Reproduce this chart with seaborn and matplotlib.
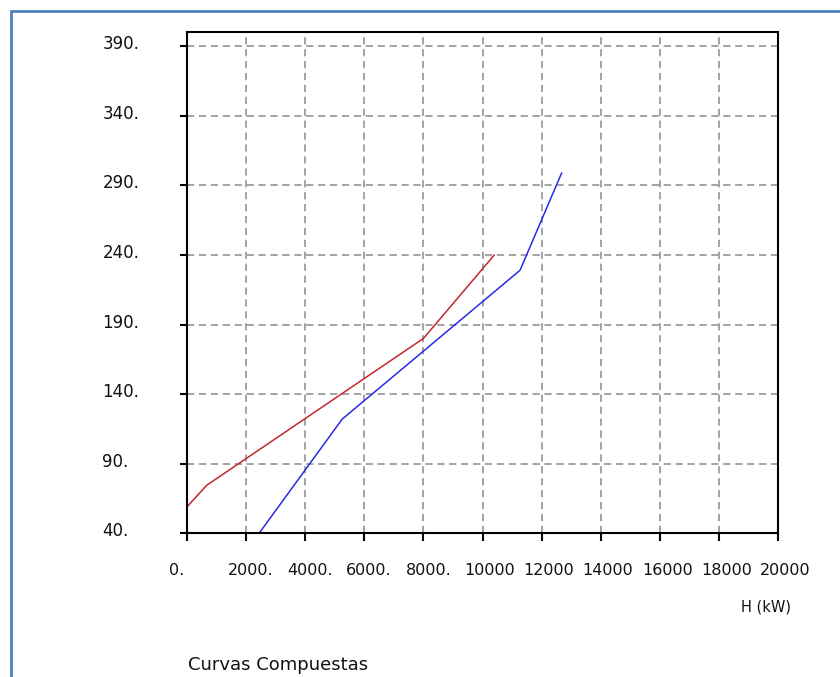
import matplotlib
matplotlib.use("Agg")
import matplotlib.pyplot as plt
import matplotlib.transforms as mtransforms
from matplotlib.lines import Line2D
import seaborn as sns
import pandas as pd

# ---- data ----
red_H = [0, 667, 8000, 10400]
red_T = [59, 74.5, 180, 240]
blue_H = [2440, 5250, 11270, 12680]
blue_T = [40, 122, 229, 299]

x_ticks = [0, 2000, 4000, 6000, 8000, 10000, 12000, 14000, 16000, 18000, 20000]
x_labels = ["0.", "2000.", "4000.", "6000.", "8000.", "10000", "12000", "14000", "16000", "18000", "20000"]
y_ticks = [40, 90, 140, 190, 240, 290, 340, 390]
y_labels = ["40.", "90.", "140.", "190.", "240.", "290.", "340.", "390."]

x_title = "H (kW)"
chart_title = "Curvas Compuestas"

sns.set_style("white")
plt.rcParams['font.family'] = ['DejaVu Sans']

W, H = 840, 677
dpi = 100
fig = plt.figure(figsize=(W / dpi, H / dpi), dpi=dpi)
fig.patch.set_facecolor("white")

left, right, top, bottom = 187, 778, 32.3, 533.3
ax = fig.add_axes([left / W, 1 - bottom / H, (right - left) / W, (bottom - top) / H])

red_df = pd.DataFrame({"H": red_H, "T": red_T})
blue_df = pd.DataFrame({"H": blue_H, "T": blue_T})
sns.lineplot(data=red_df, x="H", y="T", sort=False, estimator=None, color="#c0282d", linewidth=1.1, ax=ax)
sns.lineplot(data=blue_df, x="H", y="T", sort=False, estimator=None, color="#2a2ae6", linewidth=1.1, ax=ax)

ax.set_xlim(0, 20000)
ax.set_ylim(40, 400)
ax.set_xlabel("")
ax.set_ylabel("")

ax.set_xticks(x_ticks)
ax.set_xticklabels(x_labels, fontsize=11.5, color="#111111")
ax.set_yticks(y_ticks)
ax.set_yticklabels(y_labels, fontsize=12, color="#111111")

ax.grid(True, color="#9c9c9c", linestyle=(0, (4, 2.6)), linewidth=1.3)
for s in ax.spines.values():
    s.set_visible(True)
    s.set_color("black")
    s.set_linewidth(1.5)

ax.tick_params(axis="x", direction="out", length=6, width=1.5, color="black", pad=15.5, bottom=True)
ax.tick_params(axis="y", direction="out", length=5, width=1.5, color="black", pad=56, left=True)

for lab in ax.get_xticklabels():
    lab.set_horizontalalignment("left")
    lab.set_transform(lab.get_transform() + mtransforms.ScaledTranslation(-18 / dpi, 0, fig.dpi_scale_trans))
for lab in ax.get_yticklabels():
    lab.set_horizontalalignment("left")
    lab.set_transform(lab.get_transform() + mtransforms.ScaledTranslation(0, 4 / dpi, fig.dpi_scale_trans))

fig.text(766 / W, 1 - 607 / H, x_title, fontsize=10.5, ha="center", va="center", color="#111111")
fig.text(188 / W, 1 - 665 / H, chart_title, fontsize=13, ha="left", va="center", color="#111111")

# outer frame lines (left and top)
fig.add_artist(Line2D([11 / W, 11 / W], [0, 1 - 11 / H], transform=fig.transFigure, color="#4f81bd", linewidth=2))
fig.add_artist(Line2D([11 / W, 1], [1 - 11 / H, 1 - 11 / H], transform=fig.transFigure, color="#4f81bd", linewidth=2))

fig.savefig("out.png", dpi=dpi)
